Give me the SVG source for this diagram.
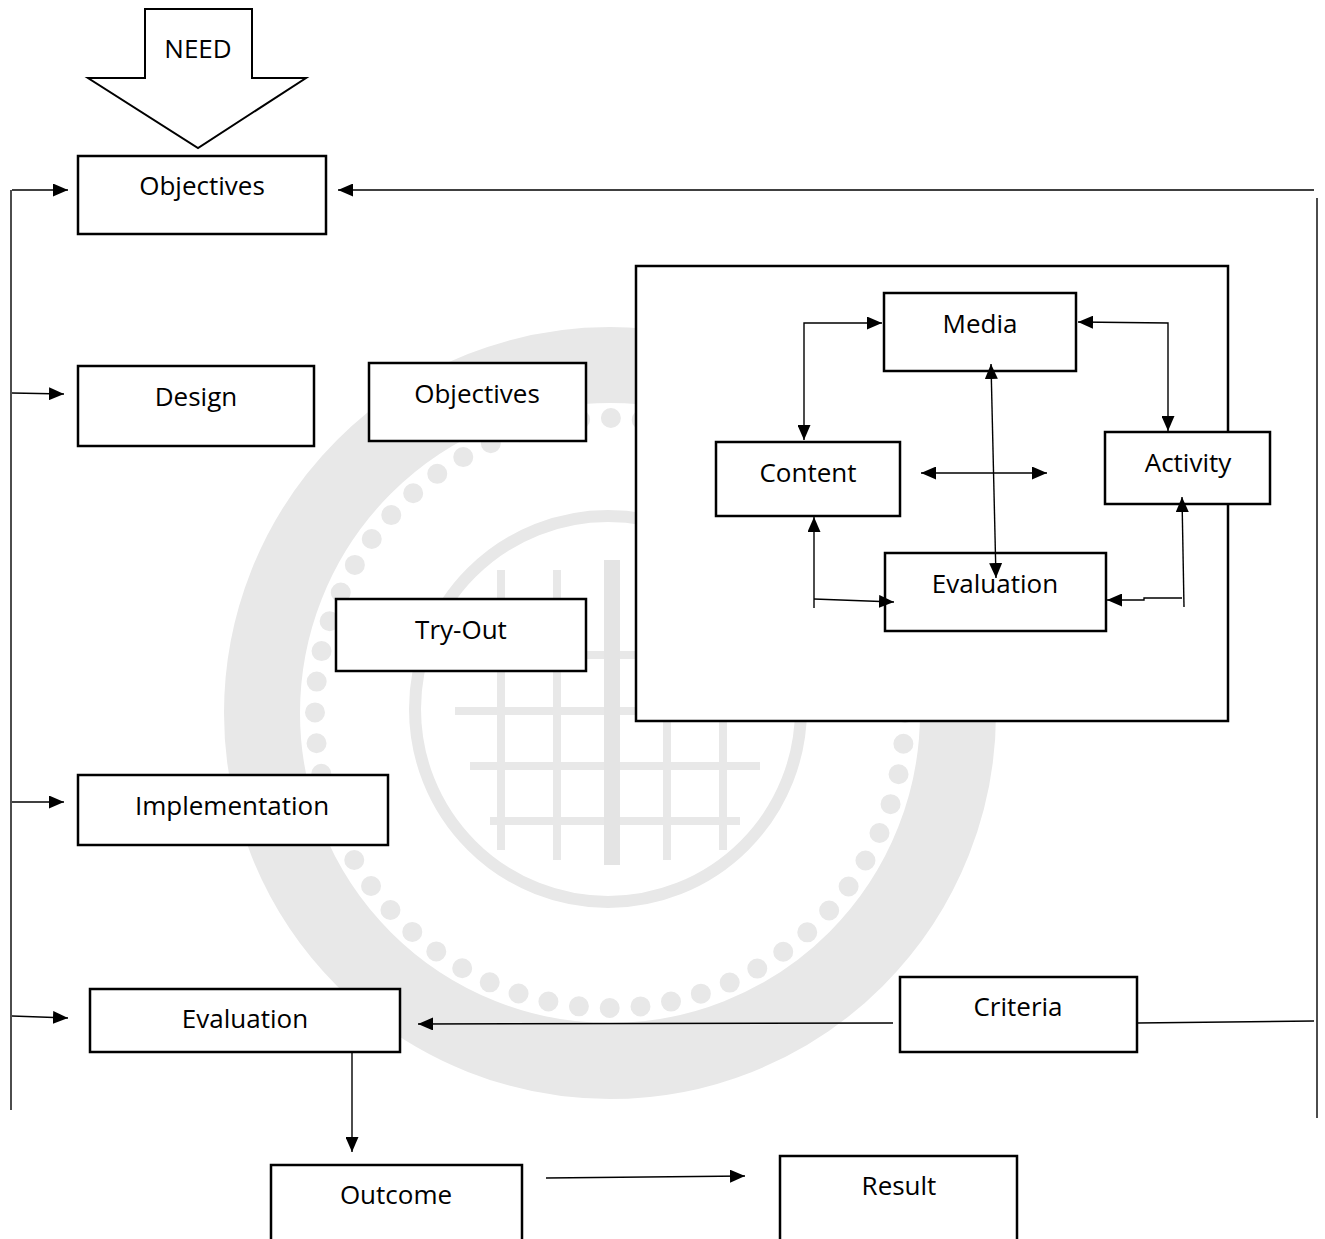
<svg xmlns="http://www.w3.org/2000/svg" width="1325" height="1239" viewBox="0 0 1325 1239">
<style>
.box{fill:#fff;stroke:#000;stroke-width:2.5}
.lbl{font-family:"Open Sans","Liberation Sans",sans-serif;font-size:26px;fill:#000;text-anchor:middle}
.c{fill:none;stroke:#000;stroke-width:1.4}
.wm{fill:none;stroke:#e8e8e8}
</style>
<defs>
<marker id="ah" viewBox="0 0 15 13" refX="15" refY="6.5" markerWidth="15" markerHeight="13" markerUnits="userSpaceOnUse" orient="auto-start-reverse">
<path d="M0,0 L15,6.5 L0,13 z" fill="#000"/>
</marker>
</defs>
<rect width="1325" height="1239" fill="#fff"/>
<g id="watermark">
<circle cx="610" cy="713" r="348" class="wm" stroke-width="76"/>
<circle cx="610" cy="713" r="295" class="wm" stroke-width="20" stroke-linecap="round" stroke-dasharray="0 30.9"/>
<circle cx="608" cy="709" r="193" class="wm" stroke-width="12"/>
<g class="wm" stroke-width="8">
<line x1="501" y1="570" x2="501" y2="850"/><line x1="557" y1="570" x2="557" y2="860"/><line x1="667" y1="570" x2="667" y2="860"/><line x1="723" y1="600" x2="723" y2="850"/>
<line x1="455" y1="711" x2="756" y2="711"/><line x1="470" y1="766" x2="760" y2="766"/><line x1="490" y1="821" x2="740" y2="821"/><line x1="490" y1="655" x2="740" y2="655"/>
</g>
<line x1="612" y1="560" x2="612" y2="865" stroke="#e4e4e4" stroke-width="16"/>
</g>
<g id="connectors">
<line class="c" x1="12" y1="190" x2="68" y2="190" marker-end="url(#ah)"/>
<line class="c" x1="1314" y1="190" x2="338" y2="190" marker-end="url(#ah)"/>
<line class="c" x1="12" y1="393" x2="64" y2="394" marker-end="url(#ah)"/>
<line class="c" x1="12" y1="802" x2="64" y2="802" marker-end="url(#ah)"/>
<line class="c" x1="12" y1="1016" x2="68" y2="1018" marker-end="url(#ah)"/>
<line class="c" x1="11" y1="190" x2="11" y2="1110"/>
<line class="c" x1="1317" y1="198" x2="1317" y2="1118"/>
<line class="c" x1="1137" y1="1023" x2="1314" y2="1021"/>
<line class="c" x1="893" y1="1023" x2="418" y2="1024" marker-end="url(#ah)"/>
<line class="c" x1="352" y1="1053" x2="352" y2="1152" marker-end="url(#ah)"/>
<line class="c" x1="546" y1="1178" x2="745" y2="1176" marker-end="url(#ah)"/>
</g>
<g id="need">
<polygon points="145,9 252,9 252,78 306,78 198,148 88,78 145,78" fill="#fff" stroke="#000" stroke-width="2"/>
<text class="lbl" x="198" y="58">NEED</text>
</g>
<g id="objectives"><rect class="box" x="78" y="156" width="248" height="78"/><text class="lbl" x="202" y="195">Objectives</text></g>
<g id="design"><rect class="box" x="78" y="366" width="236" height="80"/><text class="lbl" x="196" y="406">Design</text></g>
<g id="objectives2"><rect class="box" x="369" y="363" width="217" height="78"/><text class="lbl" x="477" y="403">Objectives</text></g>
<g id="tryout"><rect class="box" x="336" y="599" width="250" height="72"/><text class="lbl" x="461" y="639">Try-Out</text></g>
<g id="implementation"><rect class="box" x="78" y="775" width="310" height="70"/><text class="lbl" x="232" y="815">Implementation</text></g>
<g id="evaluation"><rect class="box" x="90" y="989" width="310" height="63"/><text class="lbl" x="245" y="1028">Evaluation</text></g>
<g id="criteria"><rect class="box" x="900" y="977" width="237" height="75"/><text class="lbl" x="1018" y="1016">Criteria</text></g>
<g id="outcome"><path class="box" d="M271,1245 V1165 H522 V1245"/><text class="lbl" x="396" y="1204">Outcome</text></g>
<g id="result"><path class="box" d="M780,1245 V1156 H1017 V1245"/><text class="lbl" x="899" y="1195">Result</text></g>
<g id="frame"><rect class="box" x="636" y="266" width="592" height="455"/></g>
<g id="media"><rect class="box" x="884" y="293" width="192" height="78"/><text class="lbl" x="980" y="333">Media</text></g>
<g id="content"><rect class="box" x="716" y="442" width="184" height="74"/><text class="lbl" x="808" y="482">Content</text></g>
<g id="activity"><rect class="box" x="1105" y="432" width="165" height="72"/><text class="lbl" x="1188" y="472">Activity</text></g>
<g id="evaluation-inner"><rect class="box" x="885" y="553" width="221" height="78"/><text class="lbl" x="995" y="593">Evaluation</text></g>
<g id="inner-connectors">
<polyline class="c" points="882,323 804,323 804,440" marker-start="url(#ah)" marker-end="url(#ah)"/>
<polyline class="c" points="1078,322 1168,323 1168,431" marker-start="url(#ah)" marker-end="url(#ah)"/>
<line class="c" x1="991" y1="364" x2="996" y2="578" marker-start="url(#ah)" marker-end="url(#ah)"/>
<line class="c" x1="921" y1="473" x2="1047" y2="473" marker-start="url(#ah)" marker-end="url(#ah)"/>
<line class="c" x1="814" y1="608" x2="814" y2="517" marker-end="url(#ah)"/>
<line class="c" x1="814" y1="599" x2="894" y2="602" marker-end="url(#ah)"/>
<line class="c" x1="1184" y1="607" x2="1182" y2="497" marker-end="url(#ah)"/>
<polyline class="c" points="1182,598 1144,598 1144,600 1107,600" marker-end="url(#ah)"/>
</g>
</svg>
